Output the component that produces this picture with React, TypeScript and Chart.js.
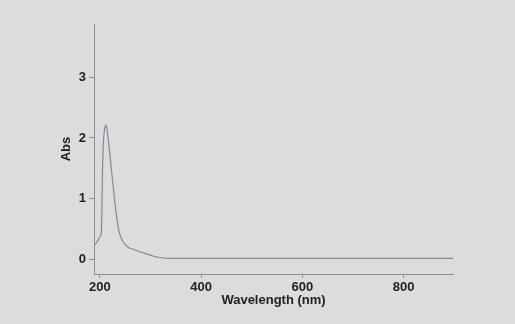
import React, { useEffect, useRef } from "react";
import { Chart, registerables } from "chart.js";

Chart.register(...registerables);

const wavelengths = [188, 192, 197, 201, 203, 204, 205, 207, 209, 211, 212, 214, 216, 219, 223, 227, 230, 233, 236, 240, 246, 256, 268, 279, 292, 305, 318, 332, 350, 400, 600, 900];
const absorbance = [0.23, 0.26, 0.32, 0.38, 0.45, 0.8, 1.36, 1.91, 2.12, 2.2, 2.21, 2.15, 2.02, 1.8, 1.47, 1.15, 0.92, 0.72, 0.54, 0.4, 0.29, 0.2, 0.16, 0.125, 0.09, 0.055, 0.03, 0.016, 0.015, 0.015, 0.015, 0.015];
const xTicks = [200, 400, 600, 800];
const yTicks = [0, 1, 2, 3];

export default function App() {
  const ref = useRef<HTMLCanvasElement>(null);
  useEffect(() => {
    const font = { family: "'Liberation Sans', Arial, sans-serif", size: 13, weight: "bold" as const };
    const axisColor = "#8e8e8e";
    const chart = new Chart(ref.current!, {
      type: "line",
      data: {
        datasets: [
          {
            data: wavelengths.map((w, i) => ({ x: w, y: absorbance[i] })),
            borderColor: "#8a8796",
            borderWidth: 1.2,
            pointRadius: 0,
            fill: false,
            cubicInterpolationMode: "monotone",
          },
        ],
      },
      options: {
        animation: false,
        responsive: false,
        devicePixelRatio: 1,
        layout: { padding: { top: 24, right: 62, left: 55, bottom: 12 } },
        plugins: { legend: { display: false }, tooltip: { enabled: false } },
        scales: {
          x: {
            type: "linear",
            min: 188.5,
            max: 897.5,
            afterBuildTicks: (s: any) => {
              s.ticks = xTicks.map((v) => ({ value: v }));
            },
            afterFit: (s: any) => {
              s.height = 38;
            },
            grid: { drawOnChartArea: false, drawTicks: true, tickLength: 4, color: axisColor },
            border: { display: true, color: axisColor, width: 1 },
            ticks: { color: "#222", font, padding: 2, maxRotation: 0 },
            title: { display: true, text: "Wavelength (nm)", color: "#222", font, padding: { top: 0, bottom: 4 } },
          },
          y: {
            type: "linear",
            min: -0.242,
            max: 3.878,
            afterBuildTicks: (s: any) => {
              s.ticks = yTicks.map((v) => ({ value: v }));
            },
            afterFit: (s: any) => {
              s.width = 39;
            },
            grid: { drawOnChartArea: false, drawTicks: true, tickLength: 5, color: axisColor },
            border: { display: true, color: axisColor, width: 1 },
            ticks: { color: "#222", font, padding: 3 },
            title: { display: true, text: "Abs", color: "#222", font, padding: { top: 4, bottom: 0 } },
          },
        },
      },
    });
    return () => chart.destroy();
  }, []);
  return (
    <div style={{ position: "fixed", left: 0, top: 0, width: 515, height: 324, background: "#dcdcdc" }}>
      <canvas ref={ref} width={515} height={324} style={{ width: 515, height: 324, display: "block" }} />
    </div>
  );
}
